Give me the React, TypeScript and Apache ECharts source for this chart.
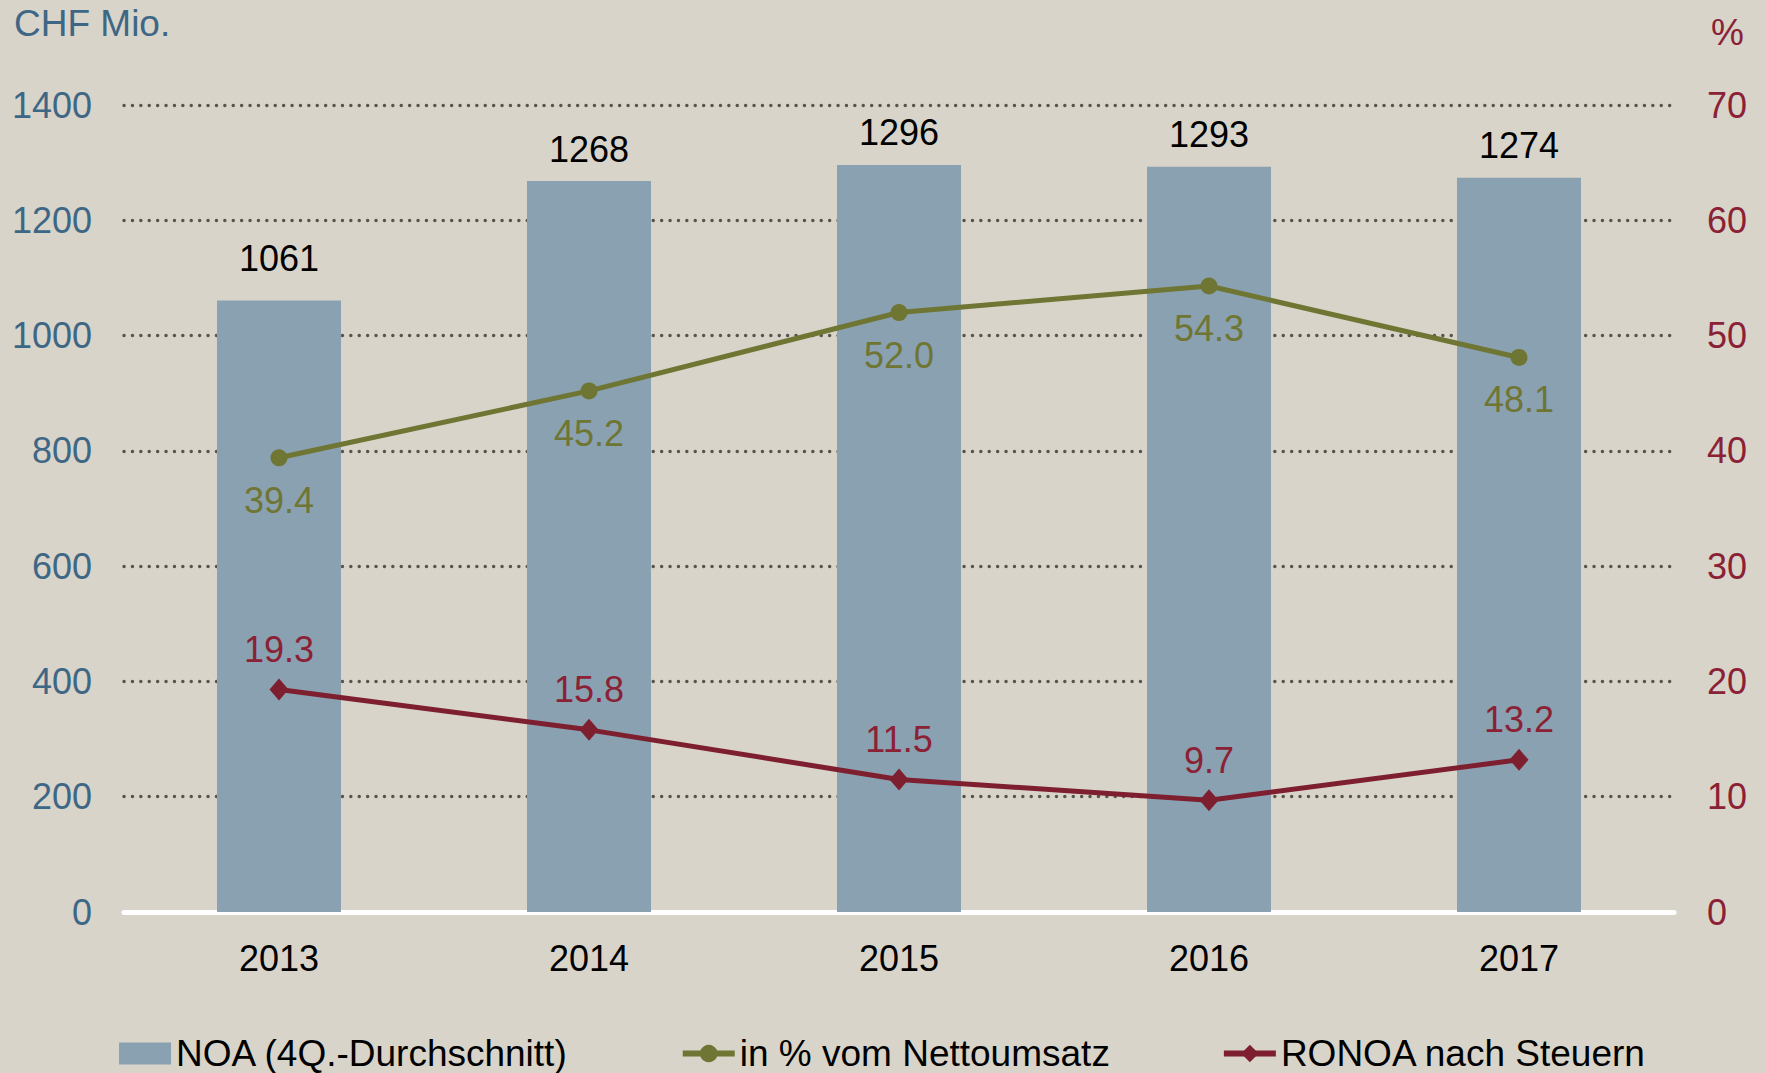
import React, { useEffect, useRef } from "react";
import * as echarts from "echarts";

const years = ["2013", "2014", "2015", "2016", "2017"];
const noa = [1061, 1268, 1296, 1293, 1274];
const pctSales = [39.4, 45.2, 52.0, 54.3, 48.1];
const ronoa = [19.3, 15.8, 11.5, 9.7, 13.2];
const leftTicks = { min: 0, max: 1400, interval: 200 };
const rightTicks = { min: 0, max: 70, interval: 10 };

const FONT = "'Liberation Sans', Arial, sans-serif";
const BG = "#D8D4C9";
const BAR = "#8AA1B2";
const GREEN = "#6F7532";
const RED = "#7E1F30";
const BLUE_TXT = "#3E6786";
const RED_TXT = "#8B2135";

export default function App() {
  const ref = useRef<HTMLDivElement>(null);
  useEffect(() => {
    document.body.style.margin = "0";
    const chart = echarts.init(ref.current!, null, { renderer: "svg" });
    chart.setOption({
      animation: false,
      backgroundColor: BG,
      textStyle: { fontFamily: FONT },
      grid: { left: 124, right: 92, top: 105, bottom: 161, containLabel: false },
      graphic: [
        {
          type: "text",
          left: 14,
          top: 5,
          style: { text: "CHF Mio.", fill: BLUE_TXT, font: `37px ${FONT}` },
        },
        {
          type: "text",
          left: 1711,
          top: 14,
          style: { text: "%", fill: RED_TXT, font: `37px ${FONT}` },
        },
      ],
      legend: {
        left: "center",
        top: 1035,
        padding: 0,
        itemGap: 111,
        itemWidth: 52,
        itemHeight: 22,
        textStyle: { color: "#000", fontSize: 37, fontFamily: FONT },
        data: [
          { name: "NOA (4Q.-Durchschnitt)", icon: "rect" },
          { name: "in % vom Nettoumsatz", lineStyle: { width: 6 } },
          { name: "RONOA nach Steuern", lineStyle: { width: 6 } },
        ],
      },
      xAxis: {
        type: "category",
        data: years,
        axisLine: { lineStyle: { color: "#FFFFFF", width: 5 } },
        axisTick: { show: false },
        axisLabel: { color: "#000", fontSize: 36, margin: 28, fontFamily: FONT },
      },
      yAxis: [
        {
          type: "value",
          ...leftTicks,
          axisLabel: {
            color: BLUE_TXT,
            fontSize: 36,
            margin: 32,
            fontFamily: FONT,
            formatter: (v: number) => String(v),
          },
          axisLine: { show: false },
          axisTick: { show: false },
          splitLine: {
            show: true,
            lineStyle: { color: "#55554C", width: 3.4, type: [0.1, 8.3], cap: "round" },
          },
        },
        {
          type: "value",
          ...rightTicks,
          position: "right",
          axisLabel: {
            color: RED_TXT,
            fontSize: 36,
            margin: 33,
            fontFamily: FONT,
            formatter: (v: number) => String(v),
          },
          axisLine: { show: false },
          axisTick: { show: false },
          splitLine: { show: false },
        },
      ],
      series: [
        {
          name: "NOA (4Q.-Durchschnitt)",
          type: "bar",
          data: noa.map((v, i) => (i === 0 ? { value: v, label: { distance: 24 } } : v)),
          barWidth: 124,
          itemStyle: { color: BAR },
          z: 2,
          label: {
            show: true,
            position: "top",
            distance: 14,
            color: "#000",
            fontSize: 36,
            fontFamily: FONT,
          },
        },
        {
          name: "in % vom Nettoumsatz",
          type: "line",
          yAxisIndex: 1,
          data: pctSales,
          symbol: "circle",
          symbolSize: 17,
          lineStyle: { color: GREEN, width: 5 },
          itemStyle: { color: GREEN },
          z: 3,
          label: {
            show: true,
            position: "bottom",
            distance: 16,
            color: GREEN,
            fontSize: 36,
            fontFamily: FONT,
            formatter: (p: any) => p.value.toFixed(1),
          },
        },
        {
          name: "RONOA nach Steuern",
          type: "line",
          yAxisIndex: 1,
          data: ronoa,
          symbol: "diamond",
          symbolSize: [19, 22],
          lineStyle: { color: RED, width: 5 },
          itemStyle: { color: RED },
          z: 3,
          label: {
            show: true,
            position: "top",
            distance: 11,
            color: RED_TXT,
            fontSize: 36,
            fontFamily: FONT,
            formatter: (p: any) => p.value.toFixed(1),
          },
        },
      ],
    });
    return () => chart.dispose();
  }, []);
  return <div ref={ref} style={{ width: 1766, height: 1073 }} />;
}
